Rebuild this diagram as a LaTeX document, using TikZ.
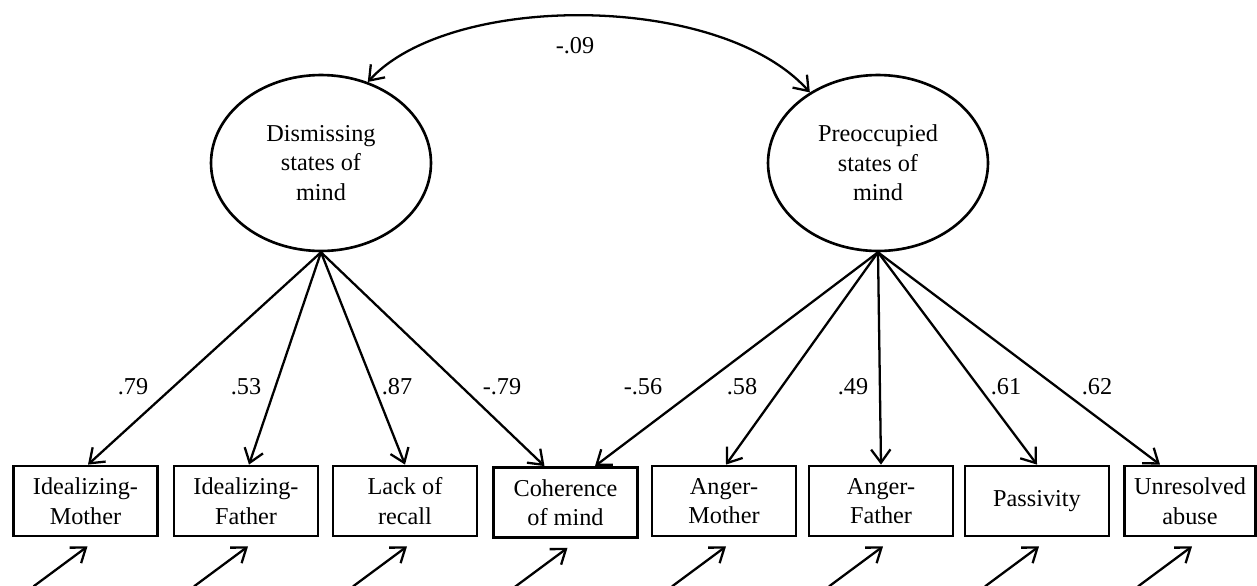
\documentclass[tikz,border=0pt]{standalone}
\usepackage{fontspec}
\setmainfont{Liberation Serif}
\usepackage{tikz}
\usetikzlibrary{calc,positioning,arrows.meta,shapes.geometric}
\newcommand{\semfont}{\fontsize{13.8}{16.8}\selectfont}

\begin{document}
\begin{tikzpicture}[x=0.02cm, y=-0.02cm,
  latent/.style={ellipse, draw, line width=1.5pt, minimum width=4.4cm,
    minimum height=3.52cm, align=center, font=\semfont},
  indicator/.style={draw, line width=1.6pt, minimum width=2.88cm,
    minimum height=1.4cm, align=center, font=\semfont},
  load/.style={font=\semfont},
  arr/.style={-{Straight Barb[length=7.5pt, width=11pt]}, line width=1.3pt}
]
  \useasboundingbox (0,0) rectangle (1257,585);

  % latent factors
  \node[latent] (dis) at (321,163) {Dismissing\\states of\\mind};
  \node[latent] (pre) at (878,163) {Preoccupied\\states of\\mind};

  % observed scales
  \node[indicator] (idm) at (85.5,501) {Idealizing-\\Mother};
  \node[indicator] (idf) at (246,501) {Idealizing-\\Father};
  \node[indicator] (lor) at (405,501) {Lack of\\recall};
  \node[indicator] (coh) at (565.5,502.5) {Coherence\\of mind};
  \node[indicator] (anm) at (724,501) {Anger-\\Mother};
  \node[indicator] (anf) at (881,501) {Anger-\\Father};
  \node[indicator] (pas) at (1037,501) {Passivity};
  \node[indicator, minimum width=2.62cm] (unr) at (1190,501) {Unresolved\\abuse};

  % covariance
  \draw[arr, {Straight Barb[length=7.5pt, width=11pt]}-{Straight Barb[length=7.5pt, width=11pt]}]
    (dis.60) .. controls (450,-8) and (720,-8) .. (pre.134);
  \node[load] (cov) at (575,46) {-.09};

  % loadings
  \draw[arr] (dis.south) -- ([xshift=0.05cm]idm.north);
  \draw[arr] (dis.south) -- ([xshift=0.06cm]idf.north);
  \draw[arr] (dis.south) -- (lor.north);
  \draw[arr] (dis.south) -- ([xshift=-0.42cm]coh.north);
  \draw[arr] (pre.south) -- ([xshift=0.59cm]coh.north);
  \draw[arr] (pre.south) -- ([xshift=0.04cm]anm.north);
  \draw[arr] (pre.south) -- (anf.north);
  \draw[arr] (pre.south) -- (pas.north);
  \draw[arr] (pre.south) -- ([xshift=-0.6cm]unr.north);

  \node[load] (l1) at (133,387) {.79};
  \node[load] (l2) at (246,387) {.53};
  \node[load] (l3) at (397,387) {.87};
  \node[load] (l4) at (502,387) {-.79};
  \node[load] (l5) at (643,387) {-.56};
  \node[load] (l6) at (742,387) {.58};
  \node[load] (l7) at (853,387) {.49};
  \node[load] (l8) at (1006,387) {.61};
  \node[load] (l9) at (1097,387) {.62};

  % error terms
  \foreach \b in {idm,idf,lor,coh,anm,anf,pas,unr}
    \draw[arr] ($(\b.south)+(-52,49)$) -- ($(\b.south)+(2,9)$);
\end{tikzpicture}
\end{document}
